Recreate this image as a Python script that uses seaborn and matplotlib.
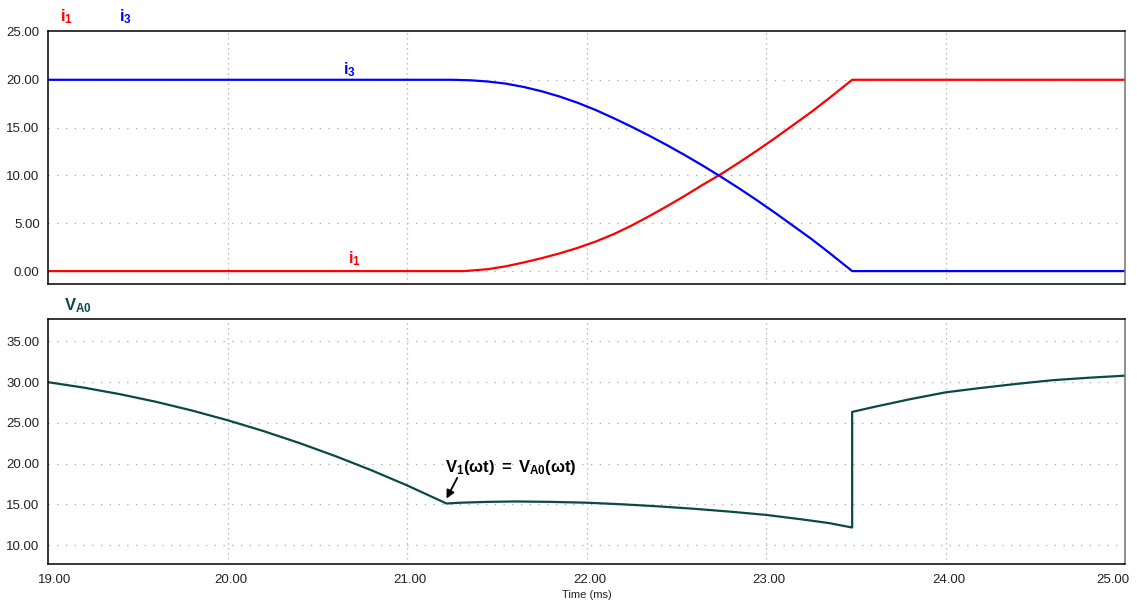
import matplotlib
matplotlib.use("Agg")
import matplotlib.pyplot as plt
import matplotlib.transforms as mtransforms
import pandas as pd
import seaborn as sns

# Commutation currents (A) against time (ms)
t_i3 = [19.0, 21.25, 21.35, 21.45, 21.55, 21.65, 21.75, 21.85, 21.95, 22.05,
        22.15, 22.25, 22.35, 22.45, 22.55, 22.65, 22.75, 22.85, 22.95, 23.05,
        23.15, 23.25, 23.35, 23.48, 25.0]
i3 = [20.0, 20.0, 19.95, 19.82, 19.6, 19.25, 18.8, 18.25, 17.6, 16.85,
      16.0, 15.1, 14.15, 13.15, 12.1, 11.0, 9.85, 8.65, 7.4, 6.1,
      4.75, 3.4, 1.95, 0.0, 0.0]

t_i1 = [19.0, 21.32, 21.45, 21.55, 21.65, 21.75, 21.85, 21.95, 22.05, 22.15,
        22.25, 22.35, 22.45, 22.55, 22.65, 22.75, 22.85, 22.95, 23.05, 23.15,
        23.25, 23.35, 23.48, 25.0]
i1 = [0.0, 0.0, 0.2, 0.5, 0.9, 1.35, 1.85, 2.42, 3.08, 3.85,
      4.75, 5.75, 6.8, 7.9, 9.05, 10.15, 11.35, 12.6, 13.9, 15.25,
      16.6, 18.05, 20.0, 20.0]

# Output voltage V_A0 (V) against time (ms)
t_v = [19.0, 19.2, 19.4, 19.6, 19.8, 20.0, 20.2, 20.4, 20.6, 20.8,
       21.0, 21.22, 21.3, 21.45, 21.6, 21.8, 22.0, 22.2, 22.4, 22.6,
       22.8, 23.0, 23.2, 23.35, 23.48, 23.48, 23.6, 23.8, 24.0, 24.2,
       24.4, 24.6, 24.8, 25.0]
va0 = [30.0, 29.33, 28.53, 27.6, 26.53, 25.33, 24.0, 22.53, 20.93, 19.2,
       17.33, 15.1, 15.2, 15.3, 15.35, 15.3, 15.2, 15.0, 14.75, 14.45,
       14.1, 13.7, 13.15, 12.7, 12.15, 26.35, 26.95, 27.9, 28.75, 29.3,
       29.8, 30.25, 30.55, 30.8]

x_ticks = [19, 20, 21, 22, 23, 24, 25]
top_yticks = [0, 5, 10, 15, 20, 25]
bot_yticks = [10, 15, 20, 25, 30, 35]

RED = "#ff0000"
BLUE = "#0000ff"
TEAL = "#0a4a45"
GRID = "#a8a8a8"

sns.set_theme(style="white")
plt.rcParams["font.family"] = ["Liberation Sans", "DejaVu Sans"]
plt.rcParams["mathtext.fontset"] = "custom"
plt.rcParams["mathtext.rm"] = "Liberation Sans"
plt.rcParams["mathtext.bf"] = "Liberation Sans:bold"
plt.rcParams["mathtext.it"] = "Liberation Sans:italic"

fig = plt.figure(figsize=(11.37, 6.02), dpi=100)
ax1 = fig.add_axes([48 / 1137, 1 - 284 / 602, (1125 - 48) / 1137, (284 - 31) / 602])
ax2 = fig.add_axes([48 / 1137, 1 - 564 / 602, (1125 - 48) / 1137, (564 - 319) / 602])

cur = pd.DataFrame({
    "t": t_i1 + t_i3,
    "value": i1 + i3,
    "series": ["i1"] * len(t_i1) + ["i3"] * len(t_i3),
})
sns.lineplot(data=cur, x="t", y="value", hue="series",
             palette={"i1": RED, "i3": BLUE}, estimator=None, sort=False,
             legend=False, lw=1.6, ax=ax1)

volt = pd.DataFrame({"t": t_v, "value": va0})
sns.lineplot(data=volt, x="t", y="value", color=TEAL, estimator=None,
             sort=False, lw=1.6, ax=ax2)

for ax in (ax1, ax2):
    ax.set_xlim(19, 25)
    ax.set_xticks(x_ticks)
    ax.grid(False)
    for x in x_ticks[1:-1]:
        ax.axvline(x, color=GRID, lw=0.9, ls=(0, (1, 3)), zorder=0)
    ax.tick_params(axis="both", length=0, labelsize=9.5, colors="#222222")
    ax.tick_params(axis="y", pad=6)
    ax.tick_params(axis="x", pad=7)
    ax.set_ylabel("")
    for side in ("left", "bottom", "top"):
        ax.spines[side].set_color("black")
        ax.spines[side].set_linewidth(1.1)
    ax.spines["right"].set_color("#707070")
    ax.spines["right"].set_linewidth(1.1)

ax1.set_ylim(-1.35, 25.1)
ax1.set_yticks(top_yticks)
ax1.set_yticklabels([f"{v:.2f}" for v in top_yticks])
ax1.set_xticklabels([])
ax1.set_xlabel("")
for y in top_yticks[:-1]:
    ax1.axhline(y, color=GRID, lw=0.9, ls=(0, (1, 6)), zorder=0)

ax2.set_ylim(7.67, 37.76)
ax2.set_yticks(bot_yticks)
ax2.set_yticklabels([f"{v:.2f}" for v in bot_yticks])
ax2.set_xticklabels([f"{v:.2f}" for v in x_ticks])
# nudge the time labels slightly right, keeping the end labels inside the frame
shifts = [7, 3, 3, 3, 3, 3, -12]
for lab, dx in zip(ax2.get_xticklabels(), shifts):
    lab.set_transform(lab.get_transform() +
                      mtransforms.ScaledTranslation(dx / 100, 0, fig.dpi_scale_trans))
ax2.set_xlabel("Time (ms)", fontsize=8, labelpad=3, color="#222222")
for y in bot_yticks:
    ax2.axhline(y, color=GRID, lw=0.9, ls=(0, (1, 6)), zorder=0)

# Trace names
fig.text(60 / 1137, 1 - 17 / 602, r"$\mathbf{i}_\mathbf{1}$", color=RED,
         fontsize=12, va="center")
fig.text(119 / 1137, 1 - 17 / 602, r"$\mathbf{i}_\mathbf{3}$", color=BLUE,
         fontsize=12, va="center")
fig.text(64 / 1137, 1 - 306 / 602, r"$\mathbf{V}_\mathbf{A0}$", color=TEAL,
         fontsize=12, va="center")

ax1.text(20.68, 21.1, r"$\mathbf{i}_\mathbf{3}$", color=BLUE, fontsize=12,
         ha="center", va="center")
ax1.text(20.71, 1.25, r"$\mathbf{i}_\mathbf{1}$", color=RED, fontsize=12,
         ha="center", va="center")

ax2.text(21.21, 19.5,
         r"$\mathbf{V}_\mathbf{1}\mathbf{(ωt)\ =\ V}_\mathbf{A0}\mathbf{(ωt)}$",
         fontsize=12, ha="left", va="center", color="black")
ax2.annotate("", xy=(21.22, 15.7), xytext=(21.28, 18.25),
             arrowprops=dict(arrowstyle="-|>", color="black", lw=1.3,
                             shrinkA=0, shrinkB=0, mutation_scale=12))

fig.savefig("out.png", dpi=100)
